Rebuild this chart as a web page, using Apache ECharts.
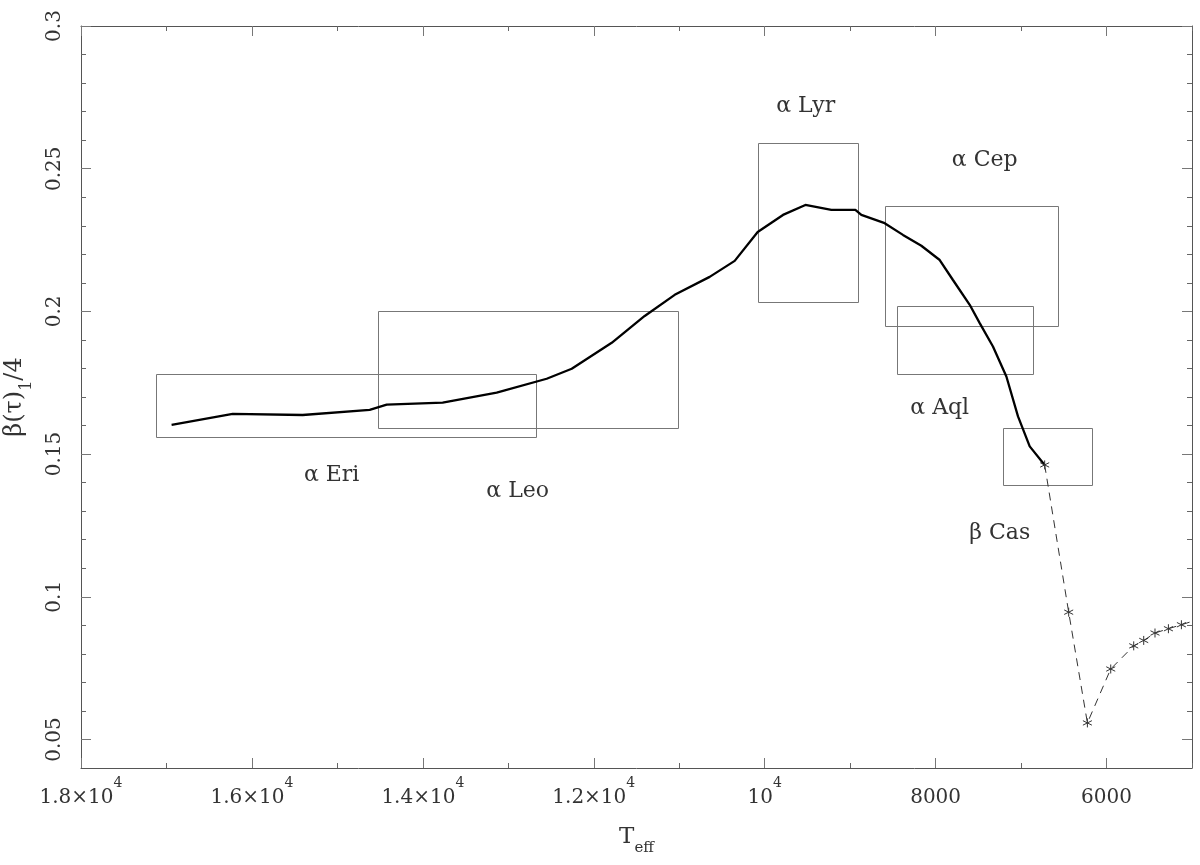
<!DOCTYPE html>
<html>
<head>
<meta charset="utf-8">
<script src="https://cdn.jsdelivr.net/npm/echarts@6/dist/echarts.min.js"></script>
<style>
html,body{margin:0;padding:0;background:#fff;}
#chart{width:1200px;height:865px;}
</style>
</head>
<body>
<div id="chart"></div>
<script>
// ---- data ----
const solidT = [16940, 16225, 15406, 14622, 14423, 13768, 13136, 12551, 12258, 11790, 11404, 11053, 10644, 10351, 10082, 9786, 9524, 9220, 8939, 8869, 8596, 8382, 8167, 7952, 7797, 7601, 7484, 7329, 7172, 7036, 6899, 6724];
const solidB = [0.1602, 0.1641, 0.1637, 0.1655, 0.1673, 0.1680, 0.1715, 0.1764, 0.1799, 0.1890, 0.1984, 0.2058, 0.2121, 0.2177, 0.2278, 0.2338, 0.2373, 0.2356, 0.2356, 0.2338, 0.2309, 0.2268, 0.2230, 0.2180, 0.2110, 0.2023, 0.1959, 0.1877, 0.1772, 0.1632, 0.1527, 0.1462];

const dashT = [6724, 6443, 6224, 5951, 5682, 5565, 5433, 5276, 5124, 4975];
const dashB = [0.1462, 0.0946, 0.0558, 0.0747, 0.0828, 0.0847, 0.0873, 0.0888, 0.0902, 0.0916];
const dashStar = [true, true, true, true, true, true, true, true, true, false];

const starNames = ['α Eri', 'α Leo', 'α Lyr', 'α Cep', 'α Aql', 'β Cas'];
const boxTmax = [17126, 14528, 10078, 8588, 8452, 7212];
const boxTmin = [12680, 11018, 8908, 6568, 6861, 6166];
const boxBmin = [0.1560, 0.1592, 0.2031, 0.1949, 0.1780, 0.1391];
const boxBmax = [0.1781, 0.2002, 0.2589, 0.2371, 0.2020, 0.1591];
const labelT = [15067, 12890, 9520, 7426, 7952, 7250];
const labelB = [0.1424, 0.1371, 0.2720, 0.2531, 0.1662, 0.1224];

const xMajor = [6000, 8000, 10000, 12000, 14000, 16000, 18000];
const xMajorLabels = ['6000', '8000', '10|4', '1.2×10|4', '1.4×10|4', '1.6×10|4', '1.8×10|4'];
const xMinor = [5000, 7000, 9000, 11000, 13000, 15000, 17000];
const yMajor = [0.05, 0.1, 0.15, 0.2, 0.25, 0.3];
const yMajorLabels = ['0.05', '0.1', '0.15', '0.2', '0.25', '0.3'];
const yMinor = [0.06, 0.07, 0.08, 0.09, 0.11, 0.12, 0.13, 0.14, 0.16, 0.17, 0.18, 0.19, 0.21, 0.22, 0.23, 0.24, 0.26, 0.27, 0.28, 0.29];

// ---- chart ----
const FONT = 'DejaVu Serif';
const TXT = '#333';
const AX = '#555';
const chart = echarts.init(document.getElementById('chart'), null, {renderer: 'canvas'});

function idx(arr, v) {
  for (let i = 0; i < arr.length; i++) if (Math.abs(arr[i] - v) < 1e-7 * Math.max(1, Math.abs(v))) return i;
  return -1;
}
function xFmt(v) {
  const i = idx(xMajor, v);
  if (i < 0) return '';
  const s = xMajorLabels[i];
  if (s.indexOf('|') >= 0) {
    const p = s.split('|');
    return '{m|' + p[0] + '}{s|' + p[1] + '}';
  }
  return '{m|' + s + '}';
}
function yFmt(v) {
  const i = idx(yMajor, v);
  return i < 0 ? '' : yMajorLabels[i];
}

const xBase = {
  type: 'value', min: 5000, max: 18000, inverse: true, gridIndex: 0, offset: 0,
  splitLine: {show: false}
};
const yBase = {
  type: 'value', min: 0.04, max: 0.3, gridIndex: 0, offset: 0,
  splitLine: {show: false}
};

const option = {
  backgroundColor: '#fff',
  animation: false,
  grid: {left: 81, right: 8, top: 26, bottom: 97, containLabel: false, outerBoundsMode: 'none'},
  xAxis: [
    Object.assign({}, xBase, {
      position: 'bottom',
      axisLine: {show: true, onZero: false, lineStyle: {color: AX, width: 1}},
      axisTick: {show: true, inside: true, length: 10, customValues: xMajor, lineStyle: {color: '#777'}},
      axisLabel: {
        show: true, customValues: xMajor, margin: 8, formatter: xFmt,
        rich: {
          m: {fontFamily: FONT, fontSize: 20, color: TXT, lineHeight: 32, verticalAlign: 'bottom'},
          s: {fontFamily: FONT, fontSize: 14, color: TXT, lineHeight: 32, verticalAlign: 'top'}
        }
      },
      name: '{m|T}{s|eff}', nameLocation: 'middle', nameGap: 58,
      nameTextStyle: {
        rich: {
          m: {fontFamily: FONT, fontSize: 23, color: TXT, lineHeight: 30, verticalAlign: 'top'},
          s: {fontFamily: FONT, fontSize: 15, color: TXT, lineHeight: 30, verticalAlign: 'bottom'}
        }
      }
    }),
    Object.assign({}, xBase, {
      position: 'bottom',
      axisLine: {show: false},
      axisTick: {show: true, inside: true, length: 5, customValues: xMinor, lineStyle: {color: '#666'}},
      axisLabel: {show: false}
    }),
    Object.assign({}, xBase, {
      position: 'top',
      axisLine: {show: true, onZero: false, lineStyle: {color: AX, width: 1}},
      axisTick: {show: true, inside: true, length: 10, customValues: xMajor, lineStyle: {color: '#777'}},
      axisLabel: {show: false}
    }),
    Object.assign({}, xBase, {
      position: 'top',
      axisLine: {show: false},
      axisTick: {show: true, inside: true, length: 5, customValues: xMinor, lineStyle: {color: '#666'}},
      axisLabel: {show: false}
    })
  ],
  yAxis: [
    Object.assign({}, yBase, {
      position: 'left',
      axisLine: {show: true, onZero: false, lineStyle: {color: AX, width: 1}},
      axisTick: {show: true, inside: true, length: 10, customValues: yMajor, lineStyle: {color: '#777'}},
      axisLabel: {
        show: true, customValues: yMajor, rotate: 90, margin: 16, formatter: yFmt,
        fontFamily: FONT, fontSize: 20, color: TXT
      },
      name: '{m|β(τ)}{s|1}{m|/4}', nameLocation: 'middle', nameGap: 46, nameRotate: 90,
      nameTextStyle: {
        rich: {
          m: {fontFamily: FONT, fontSize: 24, color: TXT, lineHeight: 32, verticalAlign: 'top'},
          s: {fontFamily: FONT, fontSize: 16, color: TXT, lineHeight: 32, verticalAlign: 'bottom'}
        }
      }
    }),
    Object.assign({}, yBase, {
      position: 'left',
      axisLine: {show: false},
      axisTick: {show: true, inside: true, length: 5, customValues: yMinor, lineStyle: {color: '#666'}},
      axisLabel: {show: false}
    }),
    Object.assign({}, yBase, {
      position: 'right',
      axisLine: {show: true, onZero: false, lineStyle: {color: AX, width: 1}},
      axisTick: {show: true, inside: true, length: 10, customValues: yMajor, lineStyle: {color: '#777'}},
      axisLabel: {show: false}
    }),
    Object.assign({}, yBase, {
      position: 'right',
      axisLine: {show: false},
      axisTick: {show: true, inside: true, length: 5, customValues: yMinor, lineStyle: {color: '#666'}},
      axisLabel: {show: false}
    })
  ],
  series: [
    {
      type: 'custom', name: 'boxes', xAxisIndex: 0, yAxisIndex: 0,
      data: starNames.map((n, i) => [boxTmax[i], boxTmin[i], boxBmin[i], boxBmax[i]]),
      encode: {x: [0, 1], y: [2, 3]},
      renderItem: function (params, api) {
        const p1 = api.coord([api.value(0), api.value(3)]);
        const p2 = api.coord([api.value(1), api.value(2)]);
        return {
          type: 'rect',
          shape: {
            x: Math.round(Math.min(p1[0], p2[0])) + 0.5,
            y: Math.round(Math.min(p1[1], p2[1])) + 0.5,
            width: Math.round(Math.abs(p2[0] - p1[0])),
            height: Math.round(Math.abs(p2[1] - p1[1]))
          },
          style: {fill: 'none', stroke: '#777', lineWidth: 1}
        };
      },
      silent: true, z: 1
    },
    {
      type: 'custom', name: 'labels', xAxisIndex: 0, yAxisIndex: 0,
      data: starNames.map((n, i) => [labelT[i], labelB[i], n]),
      encode: {x: 0, y: 1},
      renderItem: function (params, api) {
        const p = api.coord([api.value(0), api.value(1)]);
        return {
          type: 'text',
          x: p[0], y: p[1],
          style: {
            text: starNames[params.dataIndex],
            font: '22px "' + FONT + '"',
            fill: TXT, align: 'center', verticalAlign: 'middle'
          }
        };
      },
      silent: true, z: 2
    },
    {
      type: 'line', name: 'model', xAxisIndex: 0, yAxisIndex: 0,
      data: solidT.map((t, i) => [t, solidB[i]]),
      showSymbol: false, symbol: 'none', smooth: false,
      lineStyle: {color: '#000', width: 2.3},
      z: 3
    },
    {
      type: 'line', name: 'dashed', xAxisIndex: 0, yAxisIndex: 0,
      data: dashT.map((t, i) => ({value: [t, dashB[i]], symbol: dashStar[i] ? 'path://M5,0L5,10M0.67,2.5L9.33,7.5M0.67,7.5L9.33,2.5' : 'none'})),
      symbolSize: 9, showSymbol: true, clip: true,
      itemStyle: {color: 'none', borderColor: '#333', borderWidth: 1},
      lineStyle: {color: '#333', width: 1, type: [8, 6]},
      z: 4
    }
  ]
};
chart.setOption(option);
</script>
</body>
</html>
